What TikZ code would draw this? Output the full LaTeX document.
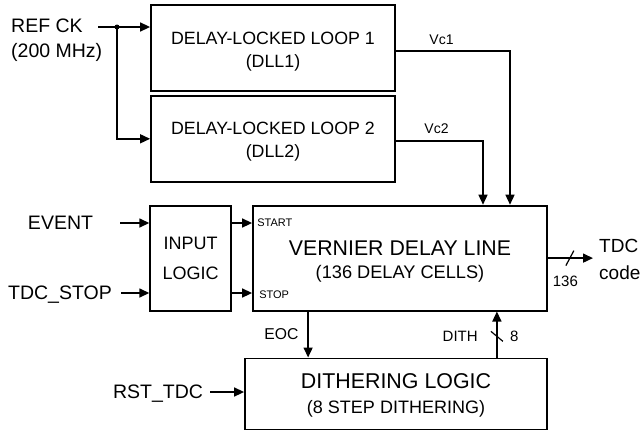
\documentclass[tikz,border=0pt]{standalone}
\usepackage{fontspec}
\setmainfont{Liberation Sans}
\usetikzlibrary{positioning,arrows.meta}
\newcommand{\fsz}[2]{\fontsize{#1}{#2}\selectfont}

\begin{document}
\begin{tikzpicture}[x=1pt, y=-1pt,
  box/.style={draw, line width=1.8pt, align=center, inner sep=0pt},
  wire/.style={line width=1.5pt},
  arr/.style={wire, -{Triangle[length=10pt, width=9pt]}},
  sig/.style={font=\fsz{19.5}{25}, text depth=0pt, inner sep=0pt},
  tag/.style={font=\fsz{14}{17}, inner sep=0pt},
]
\useasboundingbox (0,0) rectangle (642,432);

% Blocks
\node[box, minimum width=244pt, minimum height=86pt, font=\fsz{17.8}{23}] (dllone) at (273,48) {\rule{0pt}{19pt}DELAY-LOCKED LOOP 1\\(DLL1)};
\node[box, minimum width=244pt, minimum height=86pt, font=\fsz{17.8}{23}, below=3pt of dllone] (dlltwo) {\rule{0pt}{19pt}DELAY-LOCKED LOOP 2\\(DLL2)};
\node[box, minimum width=294pt, minimum height=105pt, font=\fsz{18.2}{23}, below=22pt of dlltwo, xshift=127pt] (vdl) {\rule{0pt}{22pt}{\fsz{21.3}{23}VERNIER DELAY LINE}\\(136 DELAY CELLS)};
\node[box, minimum width=81pt, minimum height=105pt, font=\fsz{18}{30}, left=20pt of vdl] (inlogic) {INPUT\\LOGIC};
\node[box, minimum width=302pt, minimum height=71pt, font=\fsz{18}{25}, below=46pt of vdl, xshift=-4pt] (dither) {\rule{0pt}{18.5pt}{\fsz{21.4}{25}DITHERING LOGIC}\\(8 STEP DITHERING)};

% Signal labels
\node[font=\fsz{19.5}{25}, align=left, anchor=west, inner sep=0pt] (refck) at (11,40) {REF CK\\(200 MHz)};
\node[sig] (event) at (60.5,223) {EVENT};
\node[sig] (tdcstop) at (60,293) {TDC\_STOP};
\node[sig] (rsttdc) at (158,392) {RST\_TDC};
\node[font=\fsz{19}{27}, align=left, anchor=west, inner sep=0pt] (tdccode) at (599,259) {TDC\\code};

% Reference clock fan-out
\coordinate (refin) at (98,27);
\coordinate (split) at (117,27);
\draw[arr] (refin) -- (refin -| dllone.west);
\draw[arr] (split) |- (dlltwo.west);
\fill (split) circle (2.5pt);

% Control voltages
\draw[arr] ([yshift=-3pt]dllone.east) -| node[pos=0.2, above=6pt, tag] (vcone) {Vc1} ([xshift=110pt]vdl.north);
\draw[arr] ([yshift=-2pt]dlltwo.east) -| node[pos=0.233, above=6pt, tag] (vctwo) {Vc2} ([xshift=83pt]vdl.north);

% Inputs
\draw[arr, shorten <=27pt] (event) -- (event -| inlogic.west);
\draw[arr, shorten <=9pt] (tdcstop) -- (tdcstop -| inlogic.west);
\draw[arr] (event -| inlogic.east) -- (event -| vdl.west);
\draw[arr] (tdcstop -| inlogic.east) -- (tdcstop -| vdl.west);
\node[font=\fsz{11}{13}, anchor=west, inner sep=0pt] (start) at ([xshift=5pt]event -| vdl.west) {START};
\node[font=\fsz{11}{13}, anchor=west, inner sep=0pt] (stop) at ([xshift=7pt, yshift=-2pt]tdcstop -| vdl.west) {STOP};
\draw[arr, shorten <=7pt] (rsttdc) -- (rsttdc -| dither.west);

% End of conversion / dithering
\draw[arr] ([xshift=56pt]vdl.south west) -- node[left=9pt, font=\fsz{15.7}{18}, inner sep=0pt] (eoc) {EOC} ([xshift=56pt]vdl.south west |- dither.north);
\draw[arr] ([xshift=-51pt]dither.north east) -- coordinate[pos=0.46] (dithmid) ([xshift=-51pt]dither.north east |- vdl.south);
\draw[line width=1.2pt] (dithmid) +(-6,-5) -- +(6,5);
\node[left=19pt of dithmid, font=\fsz{15}{18}, inner sep=0pt] (dithlbl) {DITH};
\node[right=13pt of dithmid, font=\fsz{15}{18}, inner sep=0pt] (dithbits) {8};

% Output
\draw[arr, shorten >=6pt] (vdl.east) -- coordinate[pos=0.43] (outmid) (vdl.east -| tdccode.west);
\draw[line width=1.2pt] (outmid) +(-4,7.5) -- +(4,-7.5);
\node[below=18pt of outmid, xshift=-4.5pt, font=\fsz{15}{18}, inner sep=0pt] (outbits) {136};
\end{tikzpicture}
\end{document}
